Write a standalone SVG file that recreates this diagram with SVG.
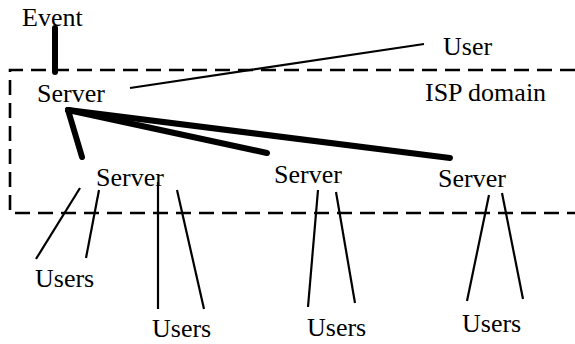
<svg xmlns="http://www.w3.org/2000/svg" width="575" height="344" viewBox="0 0 575 344">
  <style>
    text { font-family: "Liberation Serif", "Times New Roman", serif; font-size: 26px; fill: #000; }
    .thick { stroke: #000; stroke-width: 6; stroke-linecap: round; fill: none; }
    .thin { stroke: #000; stroke-width: 2.2; fill: none; }
    .domain { stroke: #000; stroke-width: 2.6; stroke-dasharray: 15 8; fill: none; }
  </style>
  <rect width="575" height="344" fill="#fff"/>

  <!-- ISP domain boundary (open on the right) -->
  <g id="isp-domain">
    <path class="domain" d="M575,70 L10,70 L10,213 L575,213"/>
    <text x="425" y="101">ISP domain</text>
  </g>

  <!-- connectors -->
  <g id="connectors">
    <path class="thick" d="M55,28 L55,72" stroke-width="4.5"/>
    <path class="thin" d="M130,88 L424,44"/>
    <path class="thick" d="M68,110 L82,157"/>
    <path class="thick" d="M68,110 L267,153"/>
    <path class="thick" d="M68,110 L450,158"/>
    <path class="thin" d="M80,188 L36,259"/>
    <path class="thin" d="M99,190 L86,258"/>
    <path class="thin" d="M158,182 L158,309"/>
    <path class="thin" d="M177,190 L204,309"/>
    <path class="thin" d="M318,190 L308,307"/>
    <path class="thin" d="M336,192 L355,303"/>
    <path class="thin" d="M489,195 L467,301"/>
    <path class="thin" d="M502,193 L523,299"/>
  </g>

  <g id="event"><text x="22" y="26">Event</text></g>
  <g id="user"><text x="443" y="55">User</text></g>
  <g id="server-root"><text x="37" y="102">Server</text></g>
  <g id="server-1"><text x="96" y="186">Server</text></g>
  <g id="server-2"><text x="274" y="183">Server</text></g>
  <g id="server-3"><text x="438" y="187">Server</text></g>
  <g id="users-1"><text x="35" y="287">Users</text></g>
  <g id="users-2"><text x="152" y="337">Users</text></g>
  <g id="users-3"><text x="307" y="336">Users</text></g>
  <g id="users-4"><text x="462" y="332">Users</text></g>
</svg>
